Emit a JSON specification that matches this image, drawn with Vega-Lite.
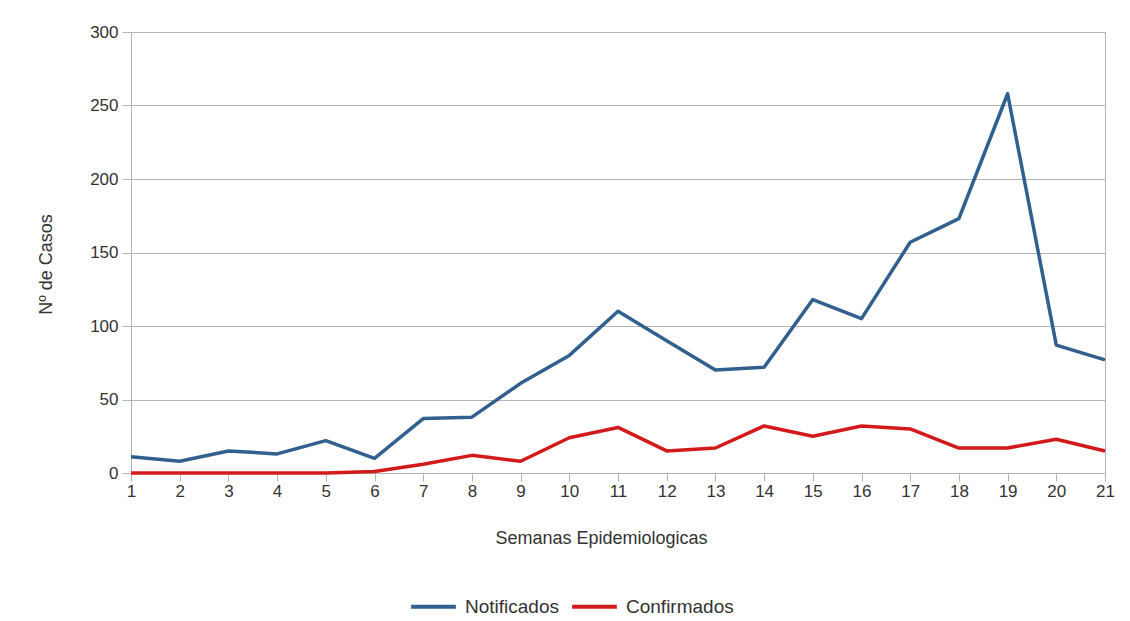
{
  "$schema": "https://vega.github.io/schema/vega-lite/v6.json",
  "width": 974,
  "height": 441,
  "autosize": {"type": "none"},
  "padding": {"left": 131, "top": 32, "right": 25, "bottom": 148},
  "background": "white",
  "config": {
    "font": "Liberation Sans",
    "view": {"stroke": "#b3b3b3", "strokeWidth": 1},
    "axis": {"labelFont": "Liberation Sans", "titleFont": "Liberation Sans", "labelColor": "#333333", "titleColor": "#333333", "titleFontWeight": "normal", "domainColor": "#b3b3b3", "tickColor": "#b3b3b3", "gridColor": "#b3b3b3", "labelFontSize": 17, "titleFontSize": 18, "labelFlush": false}
  },
  "data": {
    "values": [
      {"semana": 1, "serie": "Notificados", "casos": 11},
      {"semana": 2, "serie": "Notificados", "casos": 8},
      {"semana": 3, "serie": "Notificados", "casos": 15},
      {"semana": 4, "serie": "Notificados", "casos": 13},
      {"semana": 5, "serie": "Notificados", "casos": 22},
      {"semana": 6, "serie": "Notificados", "casos": 10},
      {"semana": 7, "serie": "Notificados", "casos": 37},
      {"semana": 8, "serie": "Notificados", "casos": 38},
      {"semana": 9, "serie": "Notificados", "casos": 61},
      {"semana": 10, "serie": "Notificados", "casos": 80},
      {"semana": 11, "serie": "Notificados", "casos": 110},
      {"semana": 12, "serie": "Notificados", "casos": 90},
      {"semana": 13, "serie": "Notificados", "casos": 70},
      {"semana": 14, "serie": "Notificados", "casos": 72},
      {"semana": 15, "serie": "Notificados", "casos": 118},
      {"semana": 16, "serie": "Notificados", "casos": 105},
      {"semana": 17, "serie": "Notificados", "casos": 157},
      {"semana": 18, "serie": "Notificados", "casos": 173},
      {"semana": 19, "serie": "Notificados", "casos": 258},
      {"semana": 20, "serie": "Notificados", "casos": 87},
      {"semana": 21, "serie": "Notificados", "casos": 77},
      {"semana": 1, "serie": "Confirmados", "casos": 0},
      {"semana": 2, "serie": "Confirmados", "casos": 0},
      {"semana": 3, "serie": "Confirmados", "casos": 0},
      {"semana": 4, "serie": "Confirmados", "casos": 0},
      {"semana": 5, "serie": "Confirmados", "casos": 0},
      {"semana": 6, "serie": "Confirmados", "casos": 1},
      {"semana": 7, "serie": "Confirmados", "casos": 6},
      {"semana": 8, "serie": "Confirmados", "casos": 12},
      {"semana": 9, "serie": "Confirmados", "casos": 8},
      {"semana": 10, "serie": "Confirmados", "casos": 24},
      {"semana": 11, "serie": "Confirmados", "casos": 31},
      {"semana": 12, "serie": "Confirmados", "casos": 15},
      {"semana": 13, "serie": "Confirmados", "casos": 17},
      {"semana": 14, "serie": "Confirmados", "casos": 32},
      {"semana": 15, "serie": "Confirmados", "casos": 25},
      {"semana": 16, "serie": "Confirmados", "casos": 32},
      {"semana": 17, "serie": "Confirmados", "casos": 30},
      {"semana": 18, "serie": "Confirmados", "casos": 17},
      {"semana": 19, "serie": "Confirmados", "casos": 17},
      {"semana": 20, "serie": "Confirmados", "casos": 23},
      {"semana": 21, "serie": "Confirmados", "casos": 15}
    ]
  },
  "mark": {"type": "line", "strokeWidth": 3.5, "strokeJoin": "round"},
  "encoding": {
    "x": {
      "field": "semana", "type": "quantitative",
      "scale": {"domain": [1, 21], "nice": false, "zero": false},
      "axis": {"title": "Semanas Epidemiologicas", "values": [1,2,3,4,5,6,7,8,9,10,11,12,13,14,15,16,17,18,19,20,21], "grid": false, "tickSize": 8, "labelPadding": 2, "labelOverlap": false, "titlePadding": 30, "titleX": 470}
    },
    "y": {
      "field": "casos", "type": "quantitative",
      "scale": {"domain": [0, 300], "nice": false},
      "axis": {"title": "Nº de Casos", "values": [0, 50, 100, 150, 200, 250, 300], "grid": true, "tickSize": 9, "labelPadding": 4, "titlePadding": 34, "titleY": 232, "domain": true}
    },
    "color": {
      "field": "serie", "type": "nominal",
      "scale": {"domain": ["Notificados", "Confirmados"], "range": ["#31608f", "#d21a1a"]},
      "legend": {
        "title": null, "orient": "none", "direction": "horizontal",
        "legendX": 278, "legendY": 550,
        "symbolType": "stroke", "symbolSize": 2000, "symbolStrokeWidth": 4,
        "labelFontSize": 19, "labelColor": "#333333", "labelFont": "Liberation Sans",
        "columnPadding": 5, "labelOffset": 7, "padding": 0
      }
    }
  }
}
